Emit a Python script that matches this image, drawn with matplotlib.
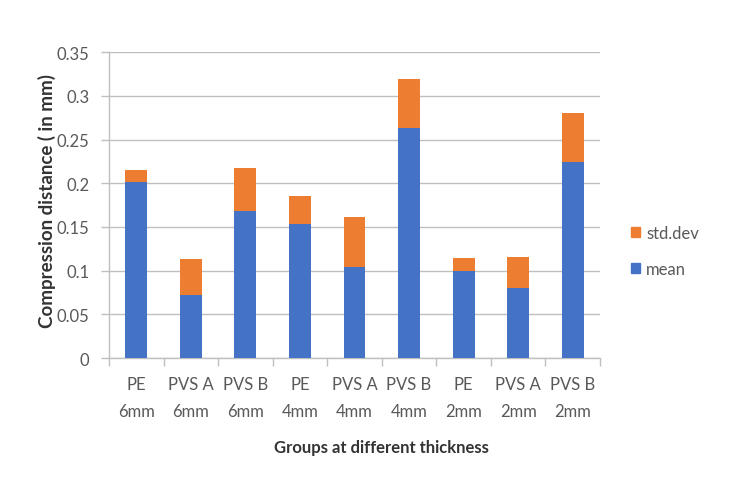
import numpy as np
import matplotlib.pyplot as plt
from matplotlib.patches import Patch

groups = ['PE\n6mm', 'PVS A\n6mm', 'PVS B\n6mm', 'PE\n4mm', 'PVS A\n4mm',
          'PVS B\n4mm', 'PE\n2mm', 'PVS A\n2mm', 'PVS B\n2mm']
mean = [0.202, 0.072, 0.168, 0.153, 0.104, 0.263, 0.100, 0.080, 0.224]
std_dev = [0.013, 0.041, 0.050, 0.032, 0.058, 0.057, 0.014, 0.036, 0.057]

blue = '#4472C4'
orange = '#ED7D31'
grey = '#595959'

plt.rcParams['font.family'] = ['Lato', 'DejaVu Sans']

fig = plt.figure(figsize=(7.5, 4.89), dpi=100)
ax = fig.add_axes([109 / 750, 1 - 359 / 489, 491 / 750, (359 - 53.3) / 489])

x = np.arange(len(groups))
ax.bar(x, mean, width=0.4, color=blue, zorder=3)
ax.bar(x, std_dev, width=0.4, bottom=mean, color=orange, zorder=3)

ax.set_xlim(-0.5, len(groups) - 0.5)
ax.set_ylim(0, 0.35)
yt = np.arange(0, 0.351, 0.05)
ax.set_yticks(yt)
ax.set_yticklabels(['0'] + ['%g' % round(v, 2) for v in yt[1:]])
ax.yaxis.grid(True, color='#BFBFBF', linewidth=1.0, zorder=0)

ax.set_xticks(x)
ax.set_xticklabels(groups, linespacing=1.85)
ax.set_xticks(np.arange(-0.5, len(groups)), minor=True)
ax.tick_params(axis='x', which='major', length=0, pad=13, labelsize=12, colors=grey)
ax.tick_params(axis='x', which='minor', length=6, color='#BFBFBF', width=1)
ax.tick_params(axis='y', length=6, color='#BFBFBF', width=1, labelsize=12,
               labelcolor=grey, pad=8)

for s in ['top', 'right']:
    ax.spines[s].set_visible(False)
for s in ['left', 'bottom']:
    ax.spines[s].set_color('#BFBFBF')
    ax.spines[s].set_linewidth(1)

fig.text(47 / 750, 1 - 201 / 489, 'Compression distance ( in mm)', rotation=90,
         ha='center', va='center', fontsize=13.5, fontweight='bold', color='#333333')
fig.text(381 / 750, 1 - 448 / 489, 'Groups at different thickness',
         ha='center', va='center', fontsize=12, fontweight='bold', color='#333333')

handles = [Patch(color=orange, label='std.dev'), Patch(color=blue, label='mean')]
fig.legend(handles=handles, loc='center left', bbox_to_anchor=(616 / 750, 1 - 252 / 489),
           frameon=False, fontsize=12, handlelength=0.55, handleheight=0.55,
           handletextpad=0.35, labelspacing=1.2, labelcolor=grey)

fig.savefig('out.png', dpi=100)
